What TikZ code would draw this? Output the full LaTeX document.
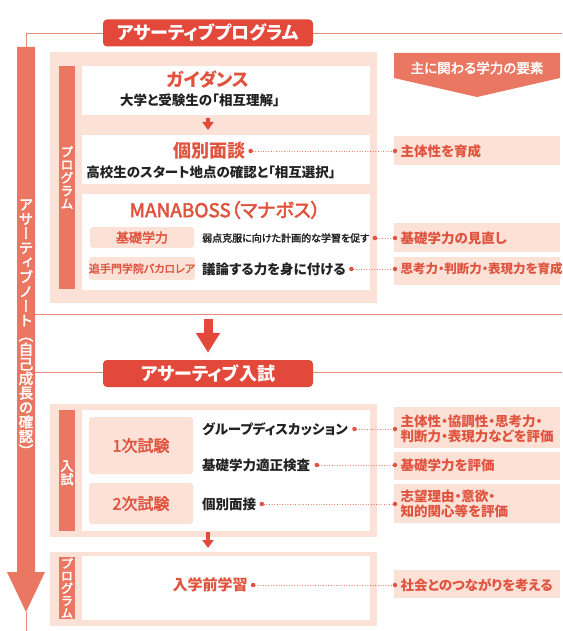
\documentclass[tikz,border=0pt]{standalone}
\usepackage{fontspec}
\setmainfont{Noto Sans CJK JP}[RawFeature=+palt]
\newfontfamily\jpmed{Noto Sans CJK JP}[RawFeature=+palt,FakeBold=2.5]
\newfontfamily\vjp{Noto Sans CJK JP}[RawFeature=+vert,FakeBold=2.5]
\usetikzlibrary{positioning,arrows.meta,calc}
\newcommand\fsz[1]{\fontsize{#1}{#1}\selectfont}
\definecolor{ared}{HTML}{E2493B}
\definecolor{asalmon}{HTML}{EA7762}
\definecolor{apink}{HTML}{FCE1D7}
\definecolor{atext}{HTML}{E0533F}
\definecolor{aline}{HTML}{E98A78}
\definecolor{ablack}{HTML}{222222}
\tikzset{
  pill/.style={fill=ared,rounded corners=4pt,text=white,font=\fsz{18}\bfseries,minimum width=210pt,minimum height=27pt,inner sep=0pt},
  whitebox/.style={fill=white,anchor=north west,minimum width=288pt,inner sep=0pt},
  tagbox/.style={fill=apink,rounded corners=3pt,text=atext,minimum width=104pt,inner sep=0pt},
  redtitle/.style={text=atext,font=\fsz{18}\bfseries,inner sep=1pt},
  bodytext/.style={text=ablack,font=\fsz{13.5}\bfseries,inner sep=1pt},
  rtext/.style={text=atext,font=\fsz{13.5}\bfseries,inner sep=1pt,anchor=west,align=left},
  vlabel/.style={text=white,align=center,inner sep=0pt},
  linkdot/.style={circle,fill=atext,inner sep=0pt,minimum size=4.5pt},
  dotlink/.style={atext,line width=0.9pt,line cap=round,dash pattern=on 0.01pt off 2.6pt},
  smallarrow/.style={ared,line width=3.5pt,-{Triangle[width=11pt,length=8pt]}},
  bigarrow/.style={ared,line width=9pt,-{Triangle[width=23pt,length=20pt]}},
  thinline/.style={aline,line width=0.8pt}
}
\begin{document}
\begin{tikzpicture}[x=1pt,y=-1pt]
\useasboundingbox (0,0) rectangle (562,631);

% frame lines and the long arrow on the left
\draw[thinline] (26,47) -- (26,33) -- (562,33);
\draw[thinline] (35,314) -- (562,314);
\draw[thinline] (35,372) -- (562,372);
\draw[thinline] (26,612) -- (26,631);
\fill[asalmon] (17,47) -- (35,47) -- (35,572) -- (45,572) -- (26,612) -- (7,572) -- (17,572) -- cycle;
\node[vlabel,font=\vjp\fontsize{14.5}{14.5}\selectfont] (note) at (26,328) {ア\\サ\\ー\\テ\\ィ\\ブ\\ノ\\ー\\ト\\（\\自\\己\\成\\長\\の\\確\\認\\）};

\node[pill] (prog) at (208,33) {アサーティブプログラム};
\node[pill] (exam) at (208,373.5) {アサーティブ入試};

% right column
\fill[asalmon] (394,53) -- (560,53) -- (560,78) -- (477,97) -- (394,78) -- cycle;
\node[text=white,font=\jpmed\fsz{13.5}] (youso) at (477,68) {主に関わる学力の要素};
\fill[apink] (394,136) rectangle (560,165);
\fill[apink] (394,223) rectangle (560,252);
\fill[apink] (394,257) rectangle (560,285);
\fill[apink] (394,407) rectangle (560,448);
\fill[apink] (394,452) rectangle (560,480);
\fill[apink] (394,484) rectangle (560,523);
\fill[apink] (394,570) rectangle (560,598);

% program
\fill[apink] (50,52) rectangle (377,303);
\fill[asalmon] (59,66) rectangle (75,289);
\node[vlabel,font=\vjp\fontsize{13}{13}\selectfont] (tabProg) at (67,177.5) {プ\\ロ\\グ\\ラ\\ム};
\node[whitebox,minimum height=49pt] (guideBox) at (82,66) {};
\node[whitebox,minimum height=49pt] (mendanBox) at (82,135) {};
\node[whitebox,minimum height=96pt] (manaBox) at (82,194) {};

\node[redtitle] (guide) at (208,80) {ガイダンス};
\node[bodytext] (guideSub) at (200,100) {大学と受験生の「相互理解」};
\node[redtitle] (mendan) at (209,151) {個別面談};
\node[bodytext] (mendanSub) at (211,172) {高校生のスタート地点の確認と「相互選択」};
\node[text=atext,font=\jpmed\fsz{19}] (mana) at (225,210) {MANABOSS（マナボス）};
\node[tagbox,minimum height=21pt,font=\jpmed\fsz{13}] (kisoTag) at (142,237.5) {基礎学力};
\node[text=ablack,font=\jpmed\fsz{10},inner sep=1pt,anchor=west] (kisoTxt) at (201,238) {弱点克服に向けた計画的な学習を促す};
\node[tagbox,minimum height=23pt,font=\jpmed\fsz{11}] (bacTag) at (142,268.5) {追手門学院バカロレア};
\node[bodytext,anchor=west] (bacTxt) at (201,269) {議論する力を身に付ける};
\draw[smallarrow,shorten <=3pt,shorten >=5pt] (guideBox.south -| guide) -- (mendanBox.north -| guide);

% exam
\fill[apink] (50,404) rectangle (377,537);
\fill[asalmon] (59,410) rectangle (75,531);
\node[vlabel,font=\vjp\fontsize{13}{13.5}\selectfont] (tabExam) at (67,473) {入\\試};
\node[whitebox,minimum height=121pt] (examBox) at (82,410) {};
\node[tagbox,minimum height=57pt,font=\jpmed\fsz{16}] (first) at (141,445.5) {1次試験};
\node[tagbox,minimum height=41pt,font=\jpmed\fsz{16}] (second) at (141,503.5) {2次試験};
\node[bodytext,anchor=west] (gd) at (201,429) {グループディスカッション};
\node[bodytext,anchor=west] (tekisei) at (201,465) {基礎学力適正検査};
\node[bodytext,anchor=west] (mensetsu) at (201,504) {個別面接};

% before entrance
\fill[apink] (50,552) rectangle (377,626);
\fill[asalmon] (59,557) rectangle (75,619);
\node[vlabel,font=\vjp\fontsize{12.5}{12.4}\selectfont] (tabPre) at (67,588) {プ\\ロ\\グ\\ラ\\ム};
\node[whitebox,minimum height=64pt] (preBox) at (82,556) {};
\node[redtitle,font=\fsz{15}\bfseries] (pre) at (210,585) {入学前学習};
\draw[smallarrow,shorten <=1pt,shorten >=8pt] (examBox.south -| exam) -- (preBox.north -| exam);

\coordinate (div1) at (208,314);
\draw[bigarrow,shorten <=5pt,shorten >=7pt] (div1) -- (exam.north);

% dots and the elements
\node[linkdot,right=2pt of mendan] (mendanDot) {};
\node[linkdot] (shutaiDot) at (395,151) {};
\node[rtext,right=2pt of shutaiDot] (shutai) {主体性を育成};
\node[linkdot,right=2pt of kisoTxt] (kisoDot) {};
\node[linkdot] (minaoshiDot) at (395,238) {};
\node[rtext,right=2pt of minaoshiDot] (minaoshi) {基礎学力の見直し};
\node[linkdot,right=2pt of bacTxt] (bacDot) {};
\node[linkdot] (shikouDot) at (395,269) {};
\node[rtext,right=2pt of shikouDot,font=\fsz{12.5}\bfseries] (shikou) {思考力・判断力・表現力を育成};
\node[linkdot,right=3pt of gd] (gdDot) {};
\node[linkdot] (kyouDot) at (395,429) {};
\node[rtext,right=2pt of kyouDot,font=\fontsize{13.5}{14.5}\selectfont\bfseries] (kyou) {主体性・協調性・思考力・\\判断力・表現力などを評価};
\node[linkdot,right=3pt of tekisei] (tekiseiDot) {};
\node[linkdot] (hyoukaDot) at (395,465) {};
\node[rtext,right=2pt of hyoukaDot] (hyouka) {基礎学力を評価};
\node[linkdot,right=2pt of mensetsu] (mensetsuDot) {};
\node[linkdot] (shibouDot) at (395,504) {};
\node[rtext,right=2pt of shibouDot,font=\fontsize{13.5}{15.5}\selectfont\bfseries] (shibou) {志望理由・意欲・\\知的関心等を評価};
\node[linkdot,right=2pt of pre] (preDot) {};
\node[linkdot] (shakaiDot) at (395,585) {};
\node[rtext,right=2pt of shakaiDot] (shakai) {社会とのつながりを考える};

\draw[dotlink] (mendanDot) -- (shutaiDot);
\draw[dotlink] (kisoDot) -- (minaoshiDot);
\draw[dotlink] (bacDot) -- (shikouDot);
\draw[dotlink] (gdDot) -- (kyouDot);
\draw[dotlink] (tekiseiDot) -- (hyoukaDot);
\draw[dotlink] (mensetsuDot) -- (shibouDot);
\draw[dotlink] (preDot) -- (shakaiDot);
\end{tikzpicture}
\end{document}
